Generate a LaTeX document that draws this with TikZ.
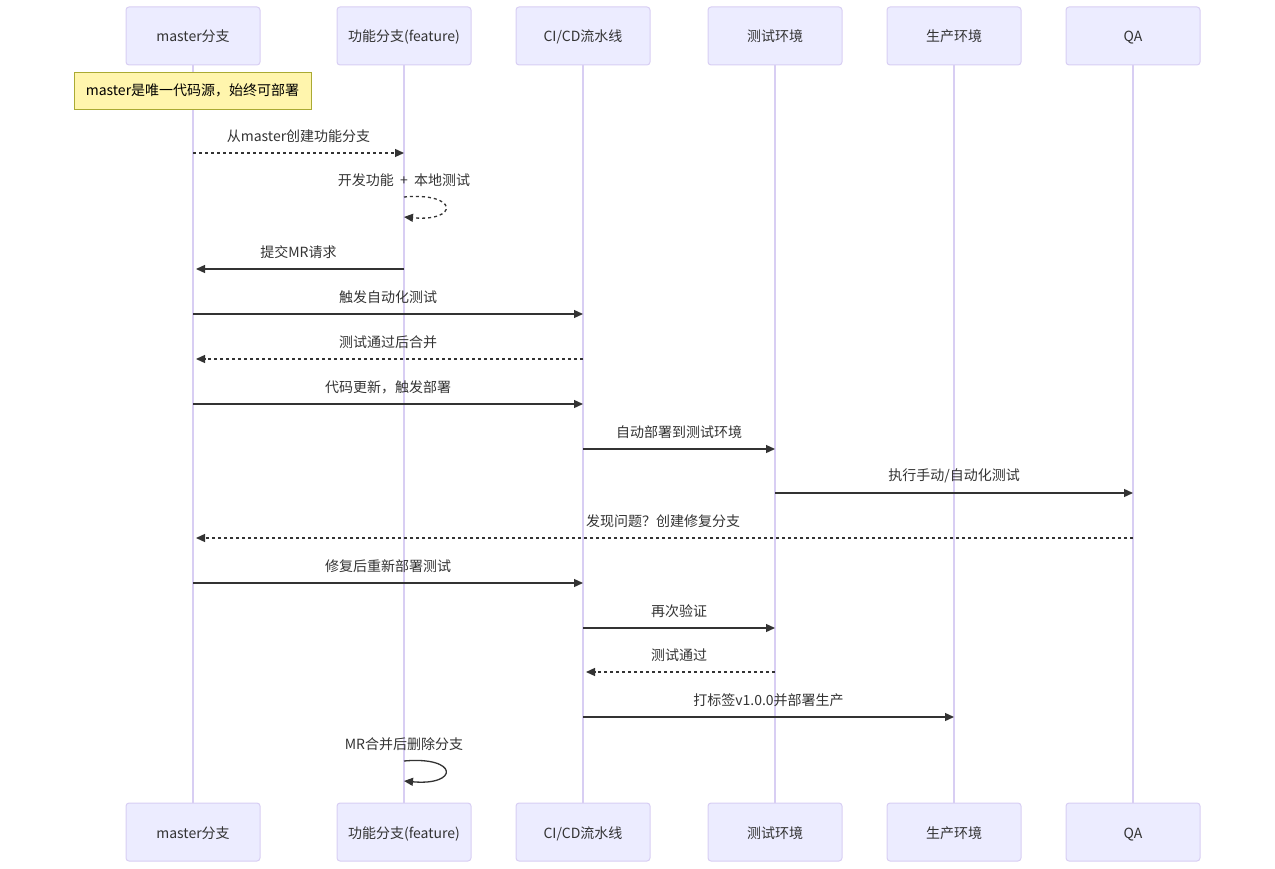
\documentclass[tikz,border=0pt]{standalone}
\usepackage{fontspec}
\setmainfont{Noto Sans CJK SC}
\usepackage{tikz}
\usetikzlibrary{arrows.meta, positioning}
\usepackage{xcolor}
\definecolor{actorfill}{HTML}{ECECFF}
\definecolor{actorline}{HTML}{D8CEF3}
\definecolor{notefill}{HTML}{FFF5AD}
\definecolor{noteline}{HTML}{AAAA33}
\definecolor{msgcolor}{HTML}{333333}
\newcommand{\seqfont}{\fontsize{14}{17}\selectfont}

\begin{document}
\begin{tikzpicture}[x=1pt, y=-1pt,
  actor/.style={rectangle, rounded corners=3pt, draw=actorline, line width=1pt,
                fill=actorfill, minimum width=134pt, minimum height=58pt,
                text height=13pt, text depth=1pt,
                font=\seqfont, text=msgcolor},
  note/.style={rectangle, draw=noteline, line width=0.8pt, fill=notefill,
               minimum width=237pt, minimum height=37pt, font=\seqfont, text=black},
  life/.style={draw=actorline, line width=1.5pt},
  msg/.style={-{Triangle[length=9pt, width=8pt]}, line width=1.3pt, msgcolor},
  reply/.style={msg, dash pattern=on 3pt off 3pt},
  back/.style={shorten >=3pt},
  lbl/.style={font=\seqfont, text=msgcolor, yshift=17pt}
]
\useasboundingbox (0,0) rectangle (1275,869);

% participants
\node[actor] (masterT) at (193,36) {master分支};
\node[actor] (featT) at (404,36) {功能分支(feature)};
\node[actor] (ciT) at (583,36) {CI/CD流水线};
\node[actor] (testT) at (775,36) {测试环境};
\node[actor] (prodT) at (954,36) {生产环境};
\node[actor] (qaT) at (1133,36) {QA};

\node[actor] (masterB) at (193,832) {master分支};
\node[actor] (featB) at (404,832) {功能分支(feature)};
\node[actor] (ciB) at (583,832) {CI/CD流水线};
\node[actor] (testB) at (775,832) {测试环境};
\node[actor] (prodB) at (954,832) {生产环境};
\node[actor] (qaB) at (1133,832) {QA};

\foreach \p in {master, feat, ci, test, prod, qa}
  \draw[life] (\p T.south) -- (\p B.north);

\node[note] (srcnote) at (192.5,90.5) {master是唯一代码源，始终可部署};

% message rows
\foreach \n/\y in {1/153, 2/197, 2b/217, 3/269, 4/314, 5/359, 6/404, 7/449,
                   8/493, 9/538, 10/583, 11/628, 12/672, 13/717, 14/761, 14b/781}
  \coordinate (r\n) at (0,\y);

\draw[reply] (masterT |- r1) -- node[lbl]{从master创建功能分支} (featT |- r1);
\draw[reply] (featT |- r2) node[lbl]{开发功能\ \ +\ \ 本地测试}
  .. controls +(55,-5) and +(55,5) .. (featT |- r2b);
\draw[msg, back] (featT |- r3) -- node[lbl]{提交MR请求} (masterT |- r3);
\draw[msg] (masterT |- r4) -- node[lbl]{触发自动化测试} (ciT |- r4);
\draw[reply, back] (ciT |- r5) -- node[lbl]{测试通过后合并} (masterT |- r5);
\draw[msg] (masterT |- r6) -- node[lbl]{代码更新，触发部署} (ciT |- r6);
\draw[msg] (ciT |- r7) -- node[lbl]{自动部署到测试环境} (testT |- r7);
\draw[msg] (testT |- r8) -- node[lbl]{执行手动/自动化测试} (qaT |- r8);
\draw[reply, back] (qaT |- r9) -- node[lbl]{发现问题？创建修复分支} (masterT |- r9);
\draw[msg] (masterT |- r10) -- node[lbl]{修复后重新部署测试} (ciT |- r10);
\draw[msg] (ciT |- r11) -- node[lbl]{再次验证} (testT |- r11);
\draw[reply, back] (testT |- r12) -- node[lbl]{测试通过} (ciT |- r12);
\draw[msg] (ciT |- r13) -- node[lbl]{打标签v1.0.0并部署生产} (prodT |- r13);
\draw[msg] (featT |- r14) node[lbl]{MR合并后删除分支}
  .. controls +(55,-5) and +(55,5) .. (featT |- r14b);

\end{tikzpicture}
\end{document}
